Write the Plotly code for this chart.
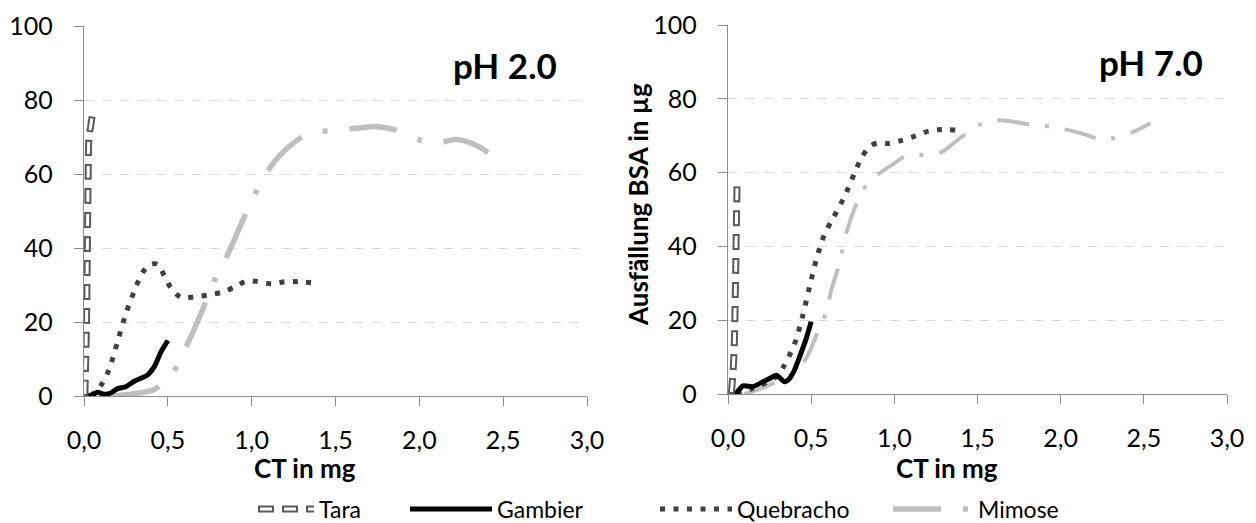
import plotly.graph_objects as go

# ---------------- data ----------------
# pH 2.0 panel
tara_ph2_x = [0.005, 0.015, 0.02, 0.025, 0.03, 0.04, 0.05]
tara_ph2_y = [0, 20, 40, 60, 70, 73, 76]
gambier_ph2_x = [0.01, 0.05, 0.08, 0.12, 0.16, 0.2, 0.25, 0.3, 0.35, 0.38, 0.42, 0.46, 0.5]
gambier_ph2_y = [0, 0.3, 1, 0.5, 0.8, 2, 2.5, 4, 5, 5.7, 8, 12, 15]
quebracho_ph2_x = [0.04, 0.1, 0.15, 0.2, 0.25, 0.3, 0.35, 0.4, 0.44, 0.48, 0.52, 0.58,
                   0.66, 0.74, 0.82, 0.9, 0.97, 1.04, 1.12, 1.2, 1.28, 1.36]
quebracho_ph2_y = [0, 2.8, 7.2, 14.7, 22.3, 28.4, 33.4, 35.6, 35.6, 32.4, 29.1, 26.6,
                   26.8, 27.3, 28, 29.5, 31.1, 30.9, 30.3, 30.9, 30.9, 30.6]
mimose_ph2_x = [0.17, 0.3, 0.42, 0.53, 0.6, 0.7, 0.78, 0.85, 0.97, 1.04, 1.12, 1.2, 1.34,
                1.49, 1.65, 1.75, 1.85, 1.92, 2.0, 2.1, 2.22, 2.35, 2.48]
mimose_ph2_y = [0, 0.6, 1.8, 6.3, 12.4, 22.5, 31.4, 37.6, 49.8, 56.3, 62.4, 66.5, 71,
                71.7, 72.5, 72.8, 72.0, 70.5, 69.2, 68.3, 69.3, 67.5, 63.3]

# pH 7.0 panel
tara_ph7_x = [0.02, 0.035, 0.045, 0.05, 0.055]
tara_ph7_y = [0, 10, 30, 45, 58]
gambier_ph7_x = [0.01, 0.05, 0.09, 0.15, 0.21, 0.25, 0.29, 0.34, 0.37, 0.4, 0.43, 0.47, 0.5]
gambier_ph7_y = [0, 0.3, 2.2, 2, 3.3, 4.2, 5.1, 3.3, 4.2, 6.5, 10, 15, 19.6]
quebracho_ph7_x = [0.05, 0.15, 0.25, 0.3, 0.34, 0.38, 0.41, 0.45, 0.49, 0.53, 0.58, 0.63,
                   0.7, 0.76, 0.8, 0.85, 0.9, 0.97, 1.05, 1.13, 1.21, 1.29, 1.37]
quebracho_ph7_y = [0, 1.5, 3.5, 5, 7.9, 11.5, 14.8, 21.4, 29, 36.3, 43.3, 47.5,
                   53.5, 59.8, 63.8, 67, 68.1, 67.9, 68.8, 70, 71.3, 71.7, 71.5]
mimose_ph7_x = [0.1, 0.2, 0.3, 0.4, 0.47, 0.55, 0.59, 0.62, 0.67, 0.71, 0.79, 0.84, 0.91,
                1.0, 1.08, 1.19, 1.29, 1.37, 1.45, 1.55, 1.64, 1.84, 1.95, 2.05, 2.15,
                2.24, 2.35, 2.44, 2.54]
mimose_ph7_y = [0, 1.5, 3.5, 6, 9.7, 18, 22.1, 28, 35.4, 43.5, 53.5, 57.1, 59.8,
                62.5, 64.8, 64.8, 65.7, 68.5, 71.1, 73.8, 74.2, 72.9, 72.4, 71.5, 70.3,
                69, 69.6, 71.1, 73.4]

series_names = ["Tara", "Gambier", "Quebracho", "Mimose"]
panel_titles = ["pH 2.0", "pH 7.0"]
x_title = "CT in mg"
y_title = "Ausfällung BSA in µg"
x_ticks = [0, 0.5, 1.0, 1.5, 2.0, 2.5, 3.0]
y_ticks = [0, 20, 40, 60, 80, 100]

# ---------------- styling ----------------
FONT = "Lato"
C_TARA = "#595959"
C_GAMB = "#000000"
C_QUEB = "#404040"
C_MIMO = "#bfbfbf"
AX = "#8c8c8c"

# page has an 8px body margin: figure sized to fit the 1256x523 window
OFF = 8
W, H = 1256 - OFF, 523 - OFF


def fx(sx):
    return (sx - OFF) / W


def fy(sy):
    return 1 - (sy - OFF) / H


fig = go.Figure()

panels = [
    dict(xa="x", ya="y", tara=(tara_ph2_x, tara_ph2_y), gamb=(gambier_ph2_x, gambier_ph2_y),
         queb=(quebracho_ph2_x, quebracho_ph2_y), mimo=(mimose_ph2_x, mimose_ph2_y),
         mimo_dash="48px,22px,5px,22px", mimo_w=5.5, legend=True),
    dict(xa="x2", ya="y2", tara=(tara_ph7_x, tara_ph7_y), gamb=(gambier_ph7_x, gambier_ph7_y),
         queb=(quebracho_ph7_x, quebracho_ph7_y), mimo=(mimose_ph7_x, mimose_ph7_y),
         mimo_dash="32px,16px,4px,16px", mimo_w=4, legend=False),
]

for p in panels:
    show = p["legend"]
    fig.add_trace(go.Scatter(x=p["mimo"][0], y=p["mimo"][1], mode="lines", name=series_names[3],
                             line=dict(color=C_MIMO, width=p["mimo_w"], dash=p["mimo_dash"], shape="spline", smoothing=0.8),
                             xaxis=p["xa"], yaxis=p["ya"], showlegend=show, legend="legend4"))
    fig.add_trace(go.Scatter(x=p["queb"][0], y=p["queb"][1], mode="lines", name=series_names[2],
                             line=dict(color=C_QUEB, width=5, dash="5px,8.5px", shape="spline", smoothing=0.8),
                             xaxis=p["xa"], yaxis=p["ya"], showlegend=show, legend="legend3"))
    fig.add_trace(go.Scatter(x=p["gamb"][0], y=p["gamb"][1], mode="lines", name=series_names[1],
                             line=dict(color=C_GAMB, width=5, shape="spline", smoothing=0.6),
                             xaxis=p["xa"], yaxis=p["ya"], showlegend=show, legend="legend2"))
    # Tara (hollow dashes: dark outer + white inner)
    fig.add_trace(go.Scatter(x=p["tara"][0], y=p["tara"][1], mode="lines", name=series_names[0],
                             line=dict(color=C_TARA, width=7, dash="16px,8px", shape="spline"),
                             xaxis=p["xa"], yaxis=p["ya"], showlegend=show, legend="legend"))
    fig.add_trace(go.Scatter(x=p["tara"][0], y=p["tara"][1], mode="lines", name="\u00a0",
                             line=dict(color="white", width=3, dash="0px,2px,12px,10px", shape="spline"),
                             xaxis=p["xa"], yaxis=p["ya"], showlegend=show, legend="legend5",
                             hoverinfo="skip"))

TICKFONT = dict(family=FONT, size=25, color="#000")
common_x = dict(range=[0, 3], tickvals=x_ticks, tickformat=".1f", showgrid=False, zeroline=False,
                showline=True, linecolor=AX, linewidth=1.3, ticks="outside", ticklen=9,
                tickcolor=AX, tickwidth=1.3, tickfont=TICKFONT, ticklabelstandoff=13)
common_y = dict(range=[0, 100], tickvals=y_ticks, showgrid=True, gridcolor="#d9d9d9",
                griddash="dash", gridwidth=1, zeroline=False, showline=True, linecolor=AX,
                linewidth=1.3, ticks="outside", ticklen=9, tickcolor=AX, tickwidth=1.3,
                tickfont=TICKFONT, ticklabelstandoff=16)

fig.update_layout(
    width=W, height=H,
    margin=dict(l=0, r=0, t=0, b=0, autoexpand=False),
    paper_bgcolor="white", plot_bgcolor="white",
    separators=",.",
    font=dict(family=FONT, size=24, color="#000"),
    xaxis=dict(domain=[fx(84), fx(587)], anchor="y", **common_x),
    yaxis=dict(domain=[fy(396), fy(26)], anchor="x", **common_y),
    xaxis2=dict(domain=[fx(728), fx(1227)], anchor="y2", **common_x),
    yaxis2=dict(domain=[fy(394), fy(25)], anchor="x2", **common_y),
)

leg_common = dict(orientation="v", bgcolor="rgba(0,0,0,0)", borderwidth=0,
                  font=dict(family=FONT, size=23, color="#000"), yanchor="middle",
                  xanchor="left", y=fy(509), tracegroupgap=0)
fig.update_layout(
    legend=dict(x=fx(253), itemwidth=56, **leg_common),
    legend5=dict(x=fx(253), itemwidth=56, **leg_common),
    legend2=dict(x=fx(405), itemwidth=82, **leg_common),
    legend3=dict(x=fx(655), itemwidth=72, **leg_common),
    legend4=dict(x=fx(888), itemwidth=80, **leg_common),
)

annots = [
    dict(text="<b>" + panel_titles[0] + "</b>", x=fx(505), y=fy(65)),
    dict(text="<b>" + panel_titles[1] + "</b>", x=fx(1151), y=fy(62)),
]
for a in annots:
    fig.add_annotation(xref="paper", yref="paper", showarrow=False, xanchor="center",
                       yanchor="middle", font=dict(family=FONT, size=35, color="#000"), **a)

for cx in (305, 947):
    fig.add_annotation(xref="paper", yref="paper", x=fx(cx), y=fy(468), showarrow=False,
                       text="<b>" + x_title + "</b>", xanchor="center", yanchor="middle",
                       font=dict(family=FONT, size=26, color="#000"))
fig.add_annotation(xref="paper", yref="paper", x=fx(638), y=fy(205), showarrow=False,
                   text="<b>" + y_title + "</b>", textangle=-90, xanchor="center",
                   yanchor="middle", font=dict(family=FONT, size=26, color="#000"))

fig.write_html("out.html")
